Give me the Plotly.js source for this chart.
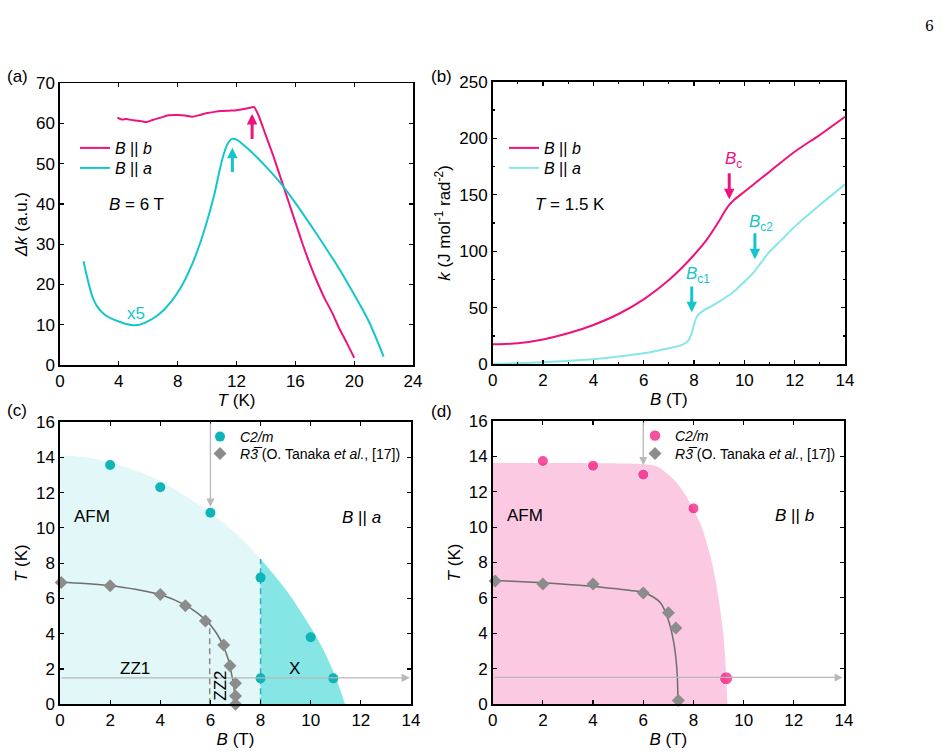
<!DOCTYPE html>
<html>
<head>
<meta charset="utf-8">
<script src="https://cdn.plot.ly/plotly-3.0.1.min.js"></script>
<style>
  html, body { margin: 0; padding: 0; background: #fff; }
  #fig { width: 946px; height: 755px; }
</style>
</head>
<body>
<div id="fig"></div>
<script>
// ---------- (a) Δk vs T at B = 6 T ----------
const aT_b = [3.9, 4.2, 4.5, 5.0, 5.5, 5.9, 6.3, 6.8, 7.3, 8.0, 8.5, 9.0, 9.5, 10.0, 10.5, 11.0, 11.5, 12.0, 12.5, 13.0, 13.2, 13.5, 14.0, 14.5, 15.0, 15.5, 16.0, 16.5, 17.0, 17.5, 18.0, 18.5, 19.0, 19.5, 20.0];
const aK_b = [61.5, 61.0, 61.1, 60.8, 60.6, 60.4, 60.9, 61.4, 62.0, 62.1, 62.0, 61.7, 62.1, 62.6, 62.9, 63.1, 63.2, 63.3, 63.6, 64.0, 64.1, 62.0, 57.0, 52.0, 46.5, 41.0, 35.5, 30.0, 25.0, 20.5, 16.5, 13.0, 9.0, 5.5, 1.8];
const aT_a = [1.6, 1.8, 2.0, 2.2, 2.5, 3.0, 3.5, 4.0, 4.5, 5.0, 5.5, 6.0, 6.5, 7.0, 7.5, 8.0, 8.5, 9.0, 9.5, 10.0, 10.5, 10.8, 11.1, 11.4, 11.7, 12.0, 12.5, 13.0, 13.5, 14.0, 15.0, 16.0, 17.0, 18.0, 19.0, 20.0, 21.0, 22.0];
const aK_a = [25.8, 22.5, 19.5, 17.0, 14.7, 12.6, 11.5, 10.8, 10.2, 9.9, 10.1, 10.9, 12.0, 13.5, 15.5, 18.0, 21.2, 25.2, 30.0, 35.8, 42.5, 47.5, 52.0, 55.0, 56.2, 56.0, 54.6, 53.0, 51.2, 49.3, 45.2, 40.3, 35.0, 29.5, 23.8, 17.5, 10.8, 2.1];
// transition arrows: [T, tail, tip]
const aArrowB = [13.06, 55.8, 62.4];
const aArrowA = [11.72, 47.6, 54.0];

// ---------- (b) k vs B at T = 1.5 K ----------
const bB_b = [0, 0.5, 1, 2, 3, 4, 5, 6, 7, 7.5, 8, 8.5, 9, 9.2, 9.4, 9.6, 10, 11, 12, 13, 14];
const bK_b = [17.7, 17.9, 18.6, 22.0, 27.4, 34.8, 44.5, 57.5, 74.6, 85.0, 96.7, 110.0, 127.0, 134.5, 141.0, 145.5, 152.7, 170.4, 188.0, 203.0, 219.0];
const bB_a = [0, 1, 2, 3, 4, 5, 6, 7, 7.5, 7.7, 7.8, 7.9, 8.0, 8.1, 8.2, 8.4, 8.7, 9, 9.5, 10, 10.4, 10.6, 10.8, 11, 11.5, 12, 13, 14];
const bK_a = [0.3, 1.0, 1.8, 3.0, 4.4, 6.8, 9.7, 14.2, 17.0, 19.5, 22.0, 27.0, 35.0, 41.5, 44.5, 48.0, 51.5, 55.4, 62.8, 73.1, 82.0, 88.0, 94.0, 99.6, 110.5, 121.8, 141.0, 159.2];
// critical-field arrows: [B, tail, tip]
const bArrowBc = [9.40, 170.4, 145.9];
const bArrowBc1 = [7.91, 70.2, 46.0];
const bArrowBc2 = [10.42, 117.3, 92.9];

// ---------- (c) phase diagram, B || a ----------
const cEdgeB = [0, 1, 2, 3, 4, 5, 6, 7, 8, 9, 10, 10.5, 11, 11.37];
const cEdgeT = [14.1, 14.0, 13.7, 13.25, 12.65, 11.8, 10.85, 9.7, 8.24, 6.5, 4.35, 3.1, 1.5, 0];
const cXB = [8, 9, 10, 10.5, 11, 11.37];
const cXT = [8.24, 6.5, 4.35, 3.1, 1.5, 0];
const cC2mB = [2, 4, 6, 8, 8, 10, 10.9];
const cC2mT = [13.56, 12.3, 10.86, 7.18, 1.47, 3.8, 1.47];
const cR3B = [0.05, 2, 4, 5, 5.8, 6.53, 6.78, 7.0, 7.0, 7.0];
const cR3T = [6.9, 6.72, 6.23, 5.59, 4.72, 3.36, 2.19, 1.19, 0.47, 0.0];
const cFitB = [0, 1, 2, 3, 4, 5, 5.5, 6, 6.3, 6.5, 6.7, 6.82, 6.92, 6.97, 7.0];
const cFitT = [6.92, 6.85, 6.72, 6.52, 6.22, 5.62, 5.15, 4.5, 3.9, 3.35, 2.6, 1.9, 1.1, 0.5, 0];
const cZZ2lineB = [5.97, 5.97];
const cZZ2lineT = [0, 4.72];
const cXlineB = [8, 8];
const cXlineT = [0, 8.24];

// ---------- (d) phase diagram, B || b ----------
const dEdgeB = [0, 3, 6, 6.5, 6.8, 7.2, 7.6, 8.0, 8.3, 8.53, 8.75, 8.93, 9.1, 9.2, 9.3, 9.35];
const dEdgeT = [13.63, 13.62, 13.55, 13.45, 13.2, 12.7, 12.0, 11.0, 10.1, 9.1, 7.9, 6.6, 5.0, 3.8, 1.8, 0];
const dC2mB = [2, 4, 6, 8, 9.3];
const dC2mT = [13.74, 13.47, 12.97, 11.06, 1.45];
const dR3B = [0.1, 2, 4, 6, 7.0, 7.3, 7.4];
const dR3T = [6.95, 6.78, 6.78, 6.28, 5.16, 4.3, 0.2];
const dFitB = [0, 1, 2, 3, 4, 5, 5.5, 6, 6.4, 6.7, 7.0, 7.2, 7.3, 7.36, 7.38];
const dFitT = [7.0, 6.92, 6.85, 6.76, 6.65, 6.5, 6.42, 6.3, 6.05, 5.7, 4.75, 3.6, 2.6, 1.5, 0];

// measurement paths (gray arrows)
const scanT = 1.5;          // field sweep at fixed T
const scanBEnd = 13.95;
const scanB = 6;            // temperature sweep at fixed B
const cScanTip = 11.2;
const dScanTip = 13.5;

// ---------- styling ----------
const W = 946, H = 755;
const px = v => v / W;
const py = v => 1 - v / H;

const PINK = '#f0127c';
const CYAN = '#14c6cc';
const CYAN_LIGHT = '#86e6e8';
const TEAL = '#0db5b8';
const GRAY = '#8c8c8c';
const GRAY_LINE = '#6e6e6e';
const ARROW_GRAY = '#b8b8b8';
const FONT = 'Liberation Sans, Arial, Helvetica, sans-serif';

function axis(domain, range, dtick, title, extra) {
  return Object.assign({
    domain: domain, range: range, dtick: dtick, tick0: 0,
    showline: true, linecolor: '#000', linewidth: 1.6, mirror: 'ticks',
    ticks: 'inside', ticklen: 4, tickwidth: 1.2, tickcolor: '#000',
    showgrid: false, zeroline: false, fixedrange: true,
    tickfont: { size: 17, color: '#000', family: FONT },
    title: { text: title, font: { size: 17, color: '#000', family: FONT }, standoff: 4 }
  }, extra || {});
}

const xdA = [px(60), px(413)], ydA = [py(365), py(83.3)];
const xdB = [px(492.7), px(845)], ydB = [py(364.3), py(81.7)];
const xdC = [px(60), px(411)], ydC = [py(704.3), py(422)];
const xdD = [px(492.7), px(844)], ydD = [py(704), py(421)];

const traces = [
  // (a)
  { x: aT_b, y: aK_b, xaxis: 'x', yaxis: 'y', mode: 'lines', line: { color: PINK, width: 2, shape: 'spline', smoothing: 0.6 },
    name: '<i>B</i> || <i>b</i>', legend: 'legend', showlegend: true },
  { x: aT_a, y: aK_a, xaxis: 'x', yaxis: 'y', mode: 'lines', line: { color: CYAN, width: 2, shape: 'spline', smoothing: 0.8 },
    name: '<i>B</i> || <i>a</i>', legend: 'legend2', showlegend: true },
  // (b)
  { x: bB_b, y: bK_b, xaxis: 'x2', yaxis: 'y2', mode: 'lines', line: { color: PINK, width: 2, shape: 'spline', smoothing: 0.8 },
    name: '<i>B</i> || <i>b</i>', legend: 'legend3', showlegend: true },
  { x: bB_a, y: bK_a, xaxis: 'x2', yaxis: 'y2', mode: 'lines', line: { color: CYAN_LIGHT, width: 2, shape: 'spline', smoothing: 0.6 },
    name: '<i>B</i> || <i>a</i>', legend: 'legend4', showlegend: true },
  // (c) regions
  { x: cEdgeB, y: cEdgeT, xaxis: 'x3', yaxis: 'y3', mode: 'lines', line: { width: 0, shape: 'spline' },
    fill: 'tozeroy', fillcolor: '#e2f7f7', showlegend: false, hoverinfo: 'skip' },
  { x: cXB, y: cXT, xaxis: 'x3', yaxis: 'y3', mode: 'lines', line: { width: 0, shape: 'spline' },
    fill: 'tozeroy', fillcolor: '#86e6e6', showlegend: false, hoverinfo: 'skip' },
  { x: cXlineB, y: cXlineT, xaxis: 'x3', yaxis: 'y3', mode: 'lines',
    line: { color: '#2bb4b8', width: 1.5, dash: '6px,4px' }, showlegend: false },
  { x: cZZ2lineB, y: cZZ2lineT, xaxis: 'x3', yaxis: 'y3', mode: 'lines',
    line: { color: '#8a8a8a', width: 1.5, dash: '6px,4px' }, showlegend: false },
  { x: cFitB, y: cFitT, xaxis: 'x3', yaxis: 'y3', mode: 'lines',
    line: { color: GRAY_LINE, width: 1.5, shape: 'spline' }, showlegend: false },
  { x: cR3B, y: cR3T, xaxis: 'x3', yaxis: 'y3', mode: 'markers', cliponaxis: false,
    marker: { symbol: 'diamond', size: 10, color: GRAY },
    name: '<i>R</i><i>3\u0305</i> (O. Tanaka <i>et al.</i>, [17])', legend: 'legend6', showlegend: true },
  { x: cC2mB, y: cC2mT, xaxis: 'x3', yaxis: 'y3', mode: 'markers', cliponaxis: false,
    marker: { symbol: 'circle', size: 10, color: TEAL },
    name: '<i>C2/m</i>', legend: 'legend5', showlegend: true },
  // (d)
  { x: dEdgeB, y: dEdgeT, xaxis: 'x4', yaxis: 'y4', mode: 'lines', line: { width: 0, shape: 'spline' },
    fill: 'tozeroy', fillcolor: '#fbc9e1', showlegend: false, hoverinfo: 'skip' },
  { x: dFitB, y: dFitT, xaxis: 'x4', yaxis: 'y4', mode: 'lines',
    line: { color: GRAY_LINE, width: 1.5, shape: 'spline' }, showlegend: false },
  { x: dR3B, y: dR3T, xaxis: 'x4', yaxis: 'y4', mode: 'markers', cliponaxis: false,
    marker: { symbol: 'diamond', size: 10, color: GRAY },
    name: '<i>R</i><i>3\u0305</i> (O. Tanaka <i>et al.</i>, [17])', legend: 'legend8', showlegend: true },
  { x: dC2mB, y: dC2mT, xaxis: 'x4', yaxis: 'y4', mode: 'markers', cliponaxis: false,
    marker: { symbol: 'circle', size: [11, 11, 11, 11, 13], color: '#f50a78' },
    name: '<i>C2/m</i>', legend: 'legend7', showlegend: true }
];

function leg(xpx, ypx, fsize) {
  return { x: px(xpx), y: py(ypx), xanchor: 'left', yanchor: 'middle',
    bgcolor: 'rgba(0,0,0,0)', borderwidth: 0, itemclick: false, itemdoubleclick: false,
    font: { size: fsize, color: '#000', family: FONT } };
}

function arrow(xr, yr, x, y, ax, ay, color, width, size) {
  return { xref: xr, yref: yr, axref: xr, ayref: yr, x: x, y: y, ax: ax, ay: ay,
    text: '', showarrow: true, arrowhead: 2, arrowsize: size, arrowwidth: width,
    arrowcolor: color, standoff: 0, startstandoff: 0 };
}

function label(xr, yr, x, y, text, color, size, extra) {
  return Object.assign({ xref: xr, yref: yr, x: x, y: y, text: text, showarrow: false,
    font: { size: size || 17, color: color || '#000', family: FONT },
    xanchor: 'center', yanchor: 'middle' }, extra || {});
}

const annotations = [
  // panel tags
  label('paper', 'paper', px(17), py(76), '(a)', '#000', 17),
  label('paper', 'paper', px(441), py(77), '(b)', '#000', 17),
  label('paper', 'paper', px(17), py(410), '(c)', '#000', 17),
  label('paper', 'paper', px(441), py(411), '(d)', '#000', 17),
  { xref: 'paper', yref: 'paper', x: px(936), y: py(16), text: '6', showarrow: false,
    font: { size: 14, color: '#000', family: 'DejaVu Serif, Liberation Serif, serif' } },
  // (a)
  arrow('x', 'y', aArrowB[0], aArrowB[2], aArrowB[0], aArrowB[1], PINK, 3, 0.7),
  arrow('x', 'y', aArrowA[0], aArrowA[2], aArrowA[0], aArrowA[1], CYAN, 3, 0.7),
  label('x', 'y', 5.2, 40, '<i>B</i> = 6 T', '#000', 17),
  label('x', 'y', 5.2, 12.7, 'x5', CYAN, 17),
  // (b)
  arrow('x2', 'y2', bArrowBc[0], bArrowBc[2], bArrowBc[0], bArrowBc[1], PINK, 3, 0.7),
  arrow('x2', 'y2', bArrowBc1[0], bArrowBc1[2], bArrowBc1[0], bArrowBc1[1], CYAN, 3, 0.7),
  arrow('x2', 'y2', bArrowBc2[0], bArrowBc2[2], bArrowBc2[0], bArrowBc2[1], CYAN, 3, 0.7),
  label('x2', 'y2', 9.55, 181, '<i>B</i><sub>c</sub>', PINK, 17),
  label('x2', 'y2', 8.15, 79, '<i>B</i><sub>c1</sub>', CYAN, 17),
  label('x2', 'y2', 10.68, 125, '<i>B</i><sub>c2</sub>', CYAN, 17),
  label('x2', 'y2', 3.07, 141, '<i>T</i> = 1.5 K', '#000', 17),
  // (c)
  arrow('x3', 'y3', scanBEnd, scanT, 0, scanT, ARROW_GRAY, 1.3, 1.25),
  arrow('x3', 'y3', scanB, cScanTip, scanB, 16, ARROW_GRAY, 1.3, 1.25),
  label('x3', 'y3', 1.26, 10.63, 'AFM'),
  label('x3', 'y3', 12.03, 10.6, '<i>B</i> || <i>a</i>'),
  label('x3', 'y3', 2.99, 2.04, 'ZZ1'),
  label('x3', 'y3', 9.34, 2.04, 'X'),
  label('x3', 'y3', 6.42, 1.05, 'ZZ2', '#000', 17, { textangle: -90 }),
  // (d)
  arrow('x4', 'y4', scanBEnd, scanT, 0, scanT, ARROW_GRAY, 1.3, 1.25),
  arrow('x4', 'y4', scanB, dScanTip, scanB, 16, ARROW_GRAY, 1.3, 1.25),
  label('x4', 'y4', 1.29, 10.67, 'AFM'),
  label('x4', 'y4', 12.02, 10.67, '<i>B</i> || <i>b</i>')
];

const layout = {
  width: W, height: H,
  margin: { l: 0, r: 0, t: 0, b: 0, pad: 0 },
  paper_bgcolor: '#fff', plot_bgcolor: 'rgba(0,0,0,0)',
  font: { family: FONT, color: '#000' },
  xaxis: axis(xdA, [0, 24], 4, '<i>T</i> (K)', { anchor: 'y' }),
  yaxis: axis(ydA, [0, 70], 10, '<i>Δk</i> (a.u.)', { anchor: 'x' }),
  xaxis2: axis(xdB, [0, 14], 2, '<i>B</i> (T)', { anchor: 'y2', minor: { ticks: 'inside', ticklen: 2.5, dtick: 1, tickcolor: '#000' } }),
  yaxis2: axis(ydB, [0, 250], 50, '<i>k</i> (J mol<sup>-1</sup> rad<sup>-2</sup>)', { anchor: 'x2', minor: { ticks: 'inside', ticklen: 2.5, dtick: 25, tickcolor: '#000' } }),
  xaxis3: axis(xdC, [0, 14], 2, '<i>B</i> (T)', { anchor: 'y3' }),
  yaxis3: axis(ydC, [0, 16], 2, '<i>T</i> (K)', { anchor: 'x3' }),
  xaxis4: axis(xdD, [0, 14], 2, '<i>B</i> (T)', { anchor: 'y4' }),
  yaxis4: axis(ydD, [0, 16], 2, '<i>T</i> (K)', { anchor: 'x4' }),
  legend: leg(75, 148, 16),
  legend2: leg(75, 168, 16),
  legend3: leg(504, 148, 16),
  legend4: leg(504, 168, 16),
  legend5: leg(200, 437, 14),
  legend6: leg(200, 454, 14),
  legend7: leg(635, 436, 14),
  legend8: leg(635, 454, 14),
  annotations: annotations,
  showlegend: true
};

Plotly.newPlot('fig', traces, layout, { staticPlot: true, displayModeBar: false });
</script>
</body>
</html>
